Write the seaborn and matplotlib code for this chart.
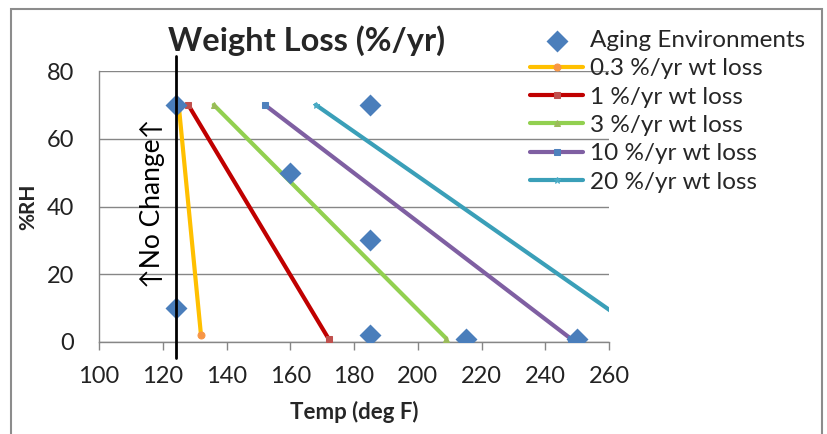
import matplotlib
matplotlib.use("Agg")
import matplotlib.pyplot as plt
import matplotlib.patches as patches
import seaborn as sns

# ---- data ----
env_temp = [124, 124, 160, 185, 185, 185, 215, 250]
env_rh = [70, 10, 50, 70, 30, 2, 1, 1]

series_labels = ["0.3 %/yr wt loss", "1 %/yr wt loss", "3 %/yr wt loss",
                 "10 %/yr wt loss", "20 %/yr wt loss"]
t_03 = [125, 132]
rh_03 = [70, 2]
t_1 = [128, 172]
rh_1 = [70, 1]
t_3 = [136, 209]
rh_3 = [70, 1]
t_10 = [152, 248]
rh_10 = [70, 1]
t_20 = [168, 273]
rh_20 = [70, 1]

x_ticks = [100, 120, 140, 160, 180, 200, 220, 240, 260]
y_ticks = [0, 20, 40, 60, 80]
no_change_temp = 124

# ---- style ----
sns.set_theme(style="white")
plt.rcParams['font.family'] = ['Lato', 'DejaVu Sans']

fig = plt.figure(figsize=(8.27, 4.34), dpi=100)
ax = fig.add_axes([99/827, 1-342/434, (609-99)/827, (342-71)/434])

grid_c = "#868686"

sns.scatterplot(x=env_temp, y=env_rh, marker="D", s=125, color="#4A7EBB",
                linewidth=0, ax=ax, label="Aging Environments", zorder=5)

line_specs = [
    (t_03, rh_03, "#FFC000", "o", "#F79646"),
    (t_1, rh_1, "#C00000", "s", "#C0504D"),
    (t_3, rh_3, "#92D050", "^", "#9BBB59"),
    (t_10, rh_10, "#7F5FA2", "s", "#4F81BD"),
    (t_20, rh_20, "#3A9FB8", "*", "#4BACC6"),
]
for (xs, ys, lc, mk, mc), lab in zip(line_specs, series_labels):
    sns.lineplot(x=xs, y=ys, color=lc, lw=3, marker=mk, markersize=5,
                 markerfacecolor=mc, markeredgecolor=mc, sort=False,
                 ax=ax, label=lab, zorder=3)

ax.set_xlim(100, 260)
ax.set_ylim(0, 80)
ax.set_xticks(x_ticks)
ax.set_yticks(y_ticks)
ax.yaxis.grid(True, color=grid_c, lw=1)
ax.xaxis.grid(False)
for s in ["top", "right"]:
    ax.spines[s].set_visible(False)
for s in ["left", "bottom"]:
    ax.spines[s].set_color(grid_c)
    ax.spines[s].set_linewidth(1)
ax.tick_params(axis="x", direction="out", length=6, width=1, color=grid_c,
               pad=11, labelsize=17, labelcolor="#222222", bottom=True)
ax.tick_params(axis="y", length=0, pad=18, labelsize=17, labelcolor="#222222")

ax.set_xlabel("Temp (deg F)", fontsize=16, fontweight="bold", labelpad=10)
ax.set_ylabel("%RH", fontsize=15, fontweight="bold", labelpad=6)

# No change line
ax.plot([no_change_temp, no_change_temp], [-4.7, 84.4], color="black", lw=2,
        clip_on=False, zorder=6)
ax.text(116.8, 41, "\u2191No Change\u2191", rotation=90, ha="center",
        va="center", fontsize=19, color="black")

fig.text(307/827, 1-51/434, "Weight Loss (%/yr)", ha="center", va="baseline",
         fontsize=23.5, fontweight="bold")

ax.get_legend().remove()
h, l = ax.get_legend_handles_labels()
fig.legend(h, l, loc="upper left", bbox_to_anchor=(530/827, 1-30/434),
           frameon=False, fontsize=17.5, handlelength=2.2, handletextpad=0.25,
           labelspacing=0.3, borderaxespad=0, borderpad=0)

fig.patches.append(patches.Rectangle((11/827, -0.05), (822-11)/827,
                                     (1-9/434)+0.05, transform=fig.transFigure,
                                     fill=False, edgecolor="#8c8c8c", lw=1.5))

fig.savefig("out.png", dpi=100)
